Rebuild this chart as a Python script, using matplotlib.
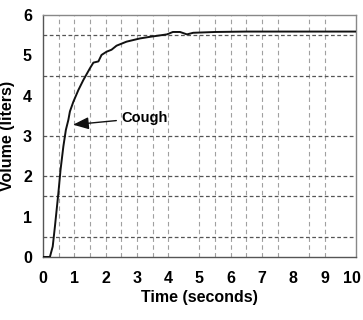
import matplotlib
matplotlib.use("Agg")
import matplotlib.pyplot as plt
from matplotlib.transforms import ScaledTranslation

# volume-time curve
time_s = [0.0, 0.22, 0.31, 0.38, 0.49, 0.56, 0.65, 0.73, 0.81, 0.86, 0.97, 1.13, 1.29, 1.5,
          1.61, 1.77, 1.87, 2.03, 2.19, 2.35, 2.67, 3.1, 3.42, 3.96, 4.15, 4.38, 4.6, 4.8,
          5.5, 6.5, 8.0, 10.0]
volume_l = [0.0, 0.0, 0.26, 0.75, 1.58, 2.16, 2.74, 3.15, 3.40, 3.61, 3.85, 4.14, 4.39, 4.68,
            4.82, 4.85, 5.01, 5.09, 5.14, 5.24, 5.34, 5.42, 5.46, 5.52, 5.58, 5.58, 5.52, 5.56,
            5.58, 5.59, 5.59, 5.59]

# grid lines that show in the scan
x_grid = [0.5, 1, 1.5, 2, 2.5, 3, 3.5, 4, 5, 5.5, 6, 6.5, 7, 7.5, 8.5, 9]
y_grid = [0.5, 1.5, 2, 3, 4.5, 5.5]
x_ticks = list(range(0, 11))
y_ticks = list(range(0, 7))

plt.rcParams['font.family'] = ['Liberation Sans', 'DejaVu Sans']
plt.rcParams['font.weight'] = 'bold'

fig = plt.figure(figsize=(3.63, 3.2), dpi=100)
ax = fig.add_axes([0.1185, 0.197, 0.862, 0.756])

for x in x_grid:
    ax.axvline(x, color='#a0a0a0', lw=0.8, ls=(0, (4, 3)), zorder=1)
for y in y_grid:
    ax.axhline(y, color='#555555', lw=0.9, ls=(0, (3, 2)), zorder=1)

ax.plot(time_s, volume_l, color='#111111', lw=1.4, zorder=3)

ax.annotate('Cough', xy=(0.96, 3.28), xytext=(2.52, 3.45),
            fontsize=10.5, fontweight='bold', va='center', ha='left',
            arrowprops=dict(arrowstyle='-|>,head_length=0.9,head_width=0.35',
                            color='#111111', lw=1.0, shrinkA=2, shrinkB=0))

ax.set_xlim(0, 10)
ax.set_ylim(0, 6)
ax.set_xticks(x_ticks)
ax.set_yticks(y_ticks)
ax.tick_params(axis='both', labelsize=11.5, length=0, pad=10)
ax.tick_params(axis='y', pad=8)
for lbl in ax.get_xticklabels() + ax.get_yticklabels():
    lbl.set_fontweight('bold')

# keep the "10" inside the picture, as in the scan
last = ax.get_xticklabels()[-1]
last.set_horizontalalignment('right')
last.set_transform(last.get_transform() + ScaledTranslation(5 / 100, 0, fig.dpi_scale_trans))

ax.set_xlabel('Time (seconds)', fontsize=11.5, fontweight='bold', labelpad=3)
ax.set_ylabel('Volume (liters)', fontsize=11.5, fontweight='bold', labelpad=6)

for side in ['top', 'right']:
    ax.spines[side].set_color('#888888')
    ax.spines[side].set_linewidth(1.0)
for side in ['left', 'bottom']:
    ax.spines[side].set_color('#555555')
    ax.spines[side].set_linewidth(1.0)

fig.savefig('out.png', dpi=100)
